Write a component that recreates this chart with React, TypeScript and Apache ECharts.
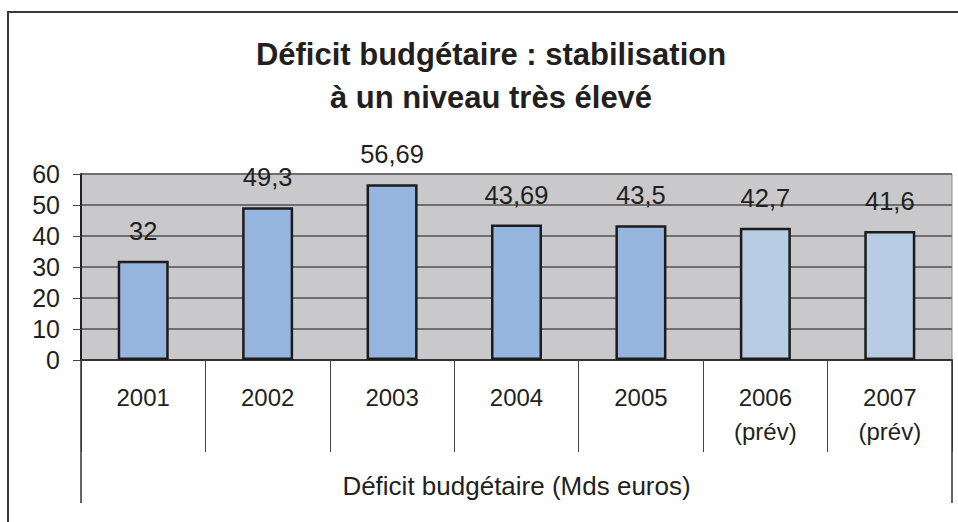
import React, { useEffect, useRef } from "react";
import * as echarts from "echarts";

const titleLines = ["Déficit budgétaire : stabilisation", "à un niveau très élevé"];
const categories = ["2001", "2002", "2003", "2004", "2005", "2006\n(prév)", "2007\n(prév)"];
const values = [32, 49.3, 56.69, 43.69, 43.5, 42.7, 41.6];
const forecast = [false, false, false, false, false, true, true];
const groupLabel = ["Déficit budgétaire (Mds euros)"];
const yTicks = { min: 0, max: 60, interval: 10 };

const FONT = "'Liberation Sans', Arial, sans-serif";
const TEXT = "#231f20";

export default function App() {
  const ref = useRef<HTMLDivElement>(null);
  useEffect(() => {
    if (!ref.current) return;
    const chart = echarts.init(ref.current, null, { renderer: "svg" });
    chart.setOption({
      animation: false,
      backgroundColor: "#ffffff",
      textStyle: { fontFamily: FONT, color: TEXT },
      title: {
        text: titleLines.join("\n"),
        left: 486,
        textAlign: "center",
        top: 28,
        textStyle: { fontFamily: FONT, fontSize: 31, fontWeight: "bold", color: TEXT, lineHeight: 43 },
      },
      graphic: [
        {
          type: "polyline",
          shape: { points: [[8, 522], [8, 12], [958, 12]] },
          style: { stroke: "#3a3a3a", lineWidth: 2, fill: "none" },
          silent: true,
        },
      ],
      grid: {
        left: 81,
        right: 6,
        top: 174,
        bottom: 162,
        show: true,
        backgroundColor: "#c9c9cb",
        borderColor: "#8a8a8a",
        borderWidth: 1,
      },
      xAxis: [
        {
          type: "category",
          data: categories,
          position: "bottom",
          axisLine: { show: true, lineStyle: { color: "#333", width: 2 } },
          axisTick: { show: true, interval: 0, length: 92, lineStyle: { color: "#444", width: 1 } },
          axisLabel: {
            interval: 0,
            margin: 20,
            fontSize: 24,
            lineHeight: 34,
            color: TEXT,
            fontFamily: FONT,
          },
        },
        {
          type: "category",
          data: groupLabel,
          position: "bottom",
          axisLine: { show: false },
          axisTick: { show: true, length: 143, lineStyle: { color: "#333", width: 1.5 } },
          axisLabel: { margin: 113, fontSize: 26, lineHeight: 26, color: TEXT, fontFamily: FONT },
        },
      ],
      yAxis: {
        type: "value",
        min: yTicks.min,
        max: yTicks.max,
        interval: yTicks.interval,
        axisLine: { show: true, lineStyle: { color: "#222", width: 2 } },
        axisTick: { show: true, length: 8, lineStyle: { color: "#444", width: 1 } },
        axisLabel: { margin: 21, fontSize: 25, color: TEXT, fontFamily: FONT },
        splitLine: { show: true, lineStyle: { color: "#6e6e6e", width: 2 } },
      },
      series: [
        {
          type: "bar",
          xAxisIndex: 0,
          barWidth: "41%",
          data: values.map((v, i) => ({
            value: v,
            itemStyle: { color: forecast[i] ? "#b8cde3" : "#95b4de" },
          })),
          itemStyle: { borderColor: "#1c1c1c", borderWidth: 2.5 },
          label: {
            show: true,
            position: "top",
            distance: 17,
            fontSize: 25.5,
            lineHeight: 26,
            color: TEXT,
            fontFamily: FONT,
            formatter: (p: any) => String(p.value).replace(".", ","),
          },
        },
      ],
    });
    return () => chart.dispose();
  }, []);
  return (
    <div
      ref={ref}
      style={{ position: "fixed", left: 0, top: 0, width: 958, height: 522 }}
    />
  );
}
